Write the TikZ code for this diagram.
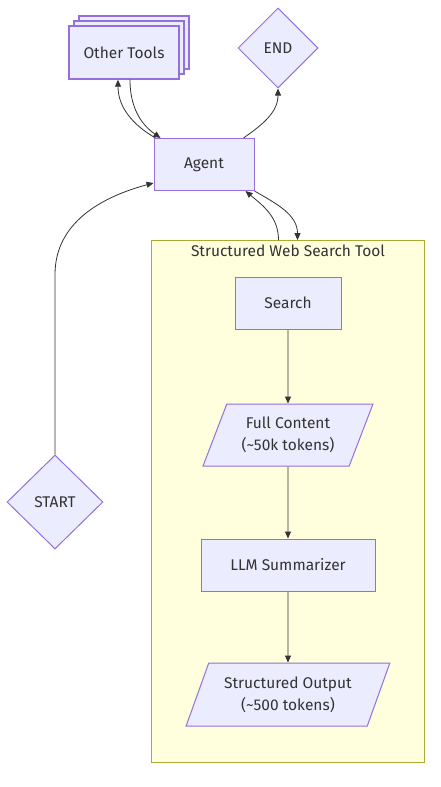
\documentclass[tikz,border=0pt]{standalone}
\usepackage{fontspec}
\setmainfont{Fira Sans}
\usepackage{xcolor}
\usepackage{tikz}
\usetikzlibrary{shapes.geometric, arrows.meta, positioning, fit, backgrounds, shadows}
\definecolor{nodefill}{HTML}{ECECFF}
\definecolor{nodedraw}{HTML}{9370DB}
\definecolor{groupfill}{HTML}{FFFFDE}
\definecolor{groupdraw}{HTML}{AAAA33}
\definecolor{edgegray}{HTML}{333333}
\tikzset{
  box/.style={rectangle, fill=nodefill, draw=nodedraw, line width=1pt,
    text=edgegray, font=\fontsize{15.5}{22}\selectfont, align=center,
    minimum height=52pt},
  stackbox/.style={box, line width=1.4pt, minimum width=110pt, minimum height=53pt,
    double copy shadow={shadow xshift=5pt, shadow yshift=5pt}},
  iobox/.style={box, trapezium, trapezium left angle=64, trapezium right angle=116,
    trapezium stretches=true, minimum height=62pt, inner sep=1pt},
  endpoint/.style={box, diamond, minimum width=80pt, minimum height=80pt, inner sep=0pt},
  toolgroup/.style={rectangle, fill=groupfill, draw=groupdraw, line width=0.8pt},
  arrow/.style={-{Triangle[length=7pt, width=6pt]}, line width=0.8pt, color=edgegray},
}

\begin{document}
\begin{tikzpicture}[x=1pt, y=1pt]

  \useasboundingbox (0,0) rectangle (441,-787);

  %% ── Agent loop ──────────────────────────────────────────────
  \node[box, minimum width=100pt] (agent) at (204,-164.5) {Agent};
  \node[stackbox] (others) at (124,-52.5) {Other Tools};
  \node[endpoint] (finish) at (278,-48) {END};
  \node[endpoint, minimum width=96pt, minimum height=94pt] (start) at (55,-502) {START};

  %% ── Structured web search tool ──────────────────────────────
  \node[box, minimum width=106pt] (search) at (288,-303) {Search};
  \node[iobox, minimum width=170pt, below=74pt of search] (full)
    {Full Content\\(\textasciitilde50k tokens)};
  \node[box, minimum width=174pt, below=72pt of full] (llm) {LLM Summarizer};
  \node[iobox, minimum width=204pt, minimum height=63pt, below=71pt of llm] (output)
    {Structured Output\\(\textasciitilde500 tokens)};

  \begin{scope}[on background layer]
    \node[toolgroup, fit=(search)(full)(llm)(output),
          inner xsep=45.5pt, inner ysep=36pt] (tool) {};
  \end{scope}
  \node[below=1pt of tool.north, text=edgegray, font=\fontsize{15.5}{18}\selectfont]
    (tooltitle) {Structured Web Search Tool};

  \draw[arrow] (search) -- (full);
  \draw[arrow] (full)   -- (llm);
  \draw[arrow] (llm)    -- (output);

  %% ── Connections ─────────────────────────────────────────────
  \draw[arrow] (start.north) -- ++(0,180)
    to[out=90, in=195] ([yshift=8pt]agent.south west);
  \draw[arrow] ([xshift=2pt]agent.north west)
    to[out=150, in=-90] ([xshift=-6pt]others.south);
  \draw[arrow] ([xshift=6pt]others.south)
    to[out=-90, in=145] ([xshift=7pt]agent.north west);
  \draw[arrow] ([xshift=-11pt]agent.north east)
    to[out=35, in=-90] (finish.south);
  \draw[arrow] ([xshift=-9.5pt]tool.north)
    to[out=90, in=-40] ([xshift=-9pt]agent.south east);
  \draw[arrow] (agent.south east)
    to[out=-30, in=90] ([xshift=9.5pt]tool.north);

\end{tikzpicture}
\end{document}
